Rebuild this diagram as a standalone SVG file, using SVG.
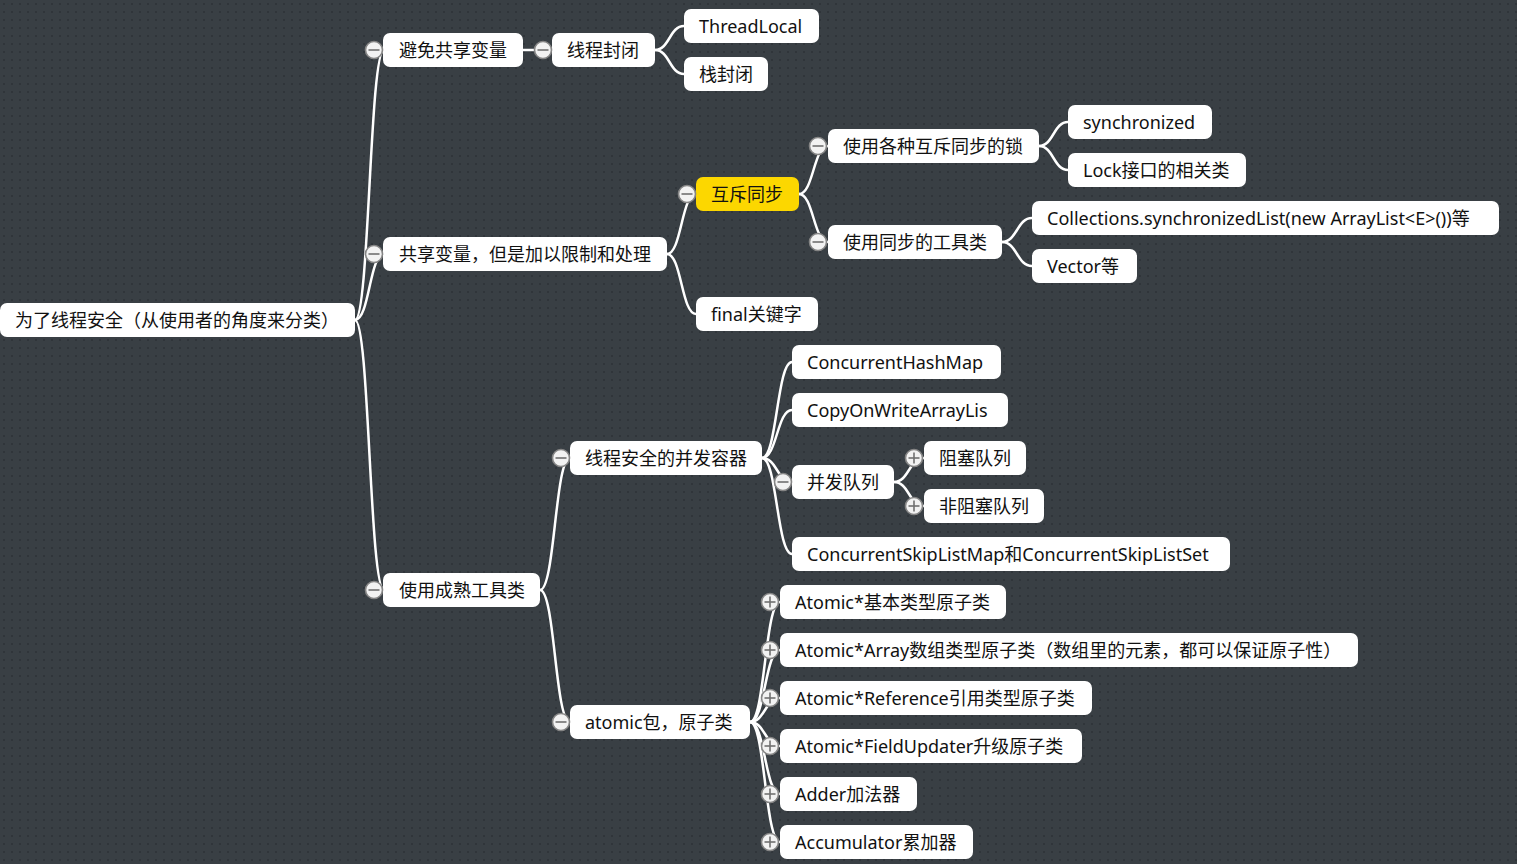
<svg xmlns="http://www.w3.org/2000/svg" width="1517" height="864" viewBox="0 0 1517 864">
<defs>
<pattern id="dots" width="8" height="8" patternUnits="userSpaceOnUse">
<rect width="8" height="8" fill="#393f44"/>
<rect x="3" y="3" width="2" height="2" fill="#30353a"/>
</pattern>
<g id="minus"><circle r="8.5" class="cc"/><line x1="-5.5" y1="0" x2="5.5" y2="0" class="cs"/></g>
<g id="plus"><circle r="8.5" class="cc"/><line x1="-5.5" y1="0" x2="5.5" y2="0" class="cs"/><line x1="0" y1="-5.5" x2="0" y2="5.5" class="cs"/></g>
</defs>
<style>
.box{fill:#ffffff;}
.hl{fill:#fcd700;}
.t{font-family:"Noto Sans","Noto Sans CJK SC",sans-serif;font-size:18px;fill:#111111;}
.cc{fill:#f2f2f2;stroke:#858585;stroke-width:1.6;}
.cs{stroke:#707070;stroke-width:1.6;}
#connectors path{fill:none;stroke:#ffffff;stroke-width:2.5;}
</style>
<rect width="1517" height="864" fill="url(#dots)"/>
<g id="connectors">
<path d="M355 320 C369.5 320 369.5 50 384 50"/>
<path d="M355 320 C369.5 320 369.5 254 384 254"/>
<path d="M355 320 C369.5 320 369.5 590 384 590"/>
<path d="M523 50 L552 50"/>
<path d="M655 50 C669.5 50 669.5 26 684 26"/>
<path d="M655 50 C669.5 50 669.5 74 684 74"/>
<path d="M667 254 C681.5 254 681.5 194 696 194"/>
<path d="M667 254 C681.5 254 681.5 314 696 314"/>
<path d="M799 194 C813.5 194 813.5 146 828 146"/>
<path d="M799 194 C813.5 194 813.5 242 828 242"/>
<path d="M1039 146 C1053.5 146 1053.5 122 1068 122"/>
<path d="M1039 146 C1053.5 146 1053.5 170 1068 170"/>
<path d="M1002 242 C1017 242 1017 218 1032 218"/>
<path d="M1002 242 C1017 242 1017 266 1032 266"/>
<path d="M540 590 C555 590 555 458 570 458"/>
<path d="M540 590 C555 590 555 722 570 722"/>
<path d="M762 458 C777 458 777 362 792 362"/>
<path d="M762 458 C777 458 777 410 792 410"/>
<path d="M762 458 C777 458 777 482 792 482"/>
<path d="M762 458 C777 458 777 554 792 554"/>
<path d="M894 482 C909 482 909 458 924 458"/>
<path d="M894 482 C909 482 909 506 924 506"/>
<path d="M750 722 C765 722 765 602 780 602"/>
<path d="M750 722 C765 722 765 650 780 650"/>
<path d="M750 722 C765 722 765 698 780 698"/>
<path d="M750 722 C765 722 765 746 780 746"/>
<path d="M750 722 C765 722 765 794 780 794"/>
<path d="M750 722 C765 722 765 842 780 842"/>
</g>
<g id="n-root"><rect class="box" x="0" y="303" width="355" height="34" rx="7"/><text class="t" x="15" y="327">为了线程安全（从使用者的角度来分类）</text></g>
<g id="n-avoid"><rect class="box" x="383" y="33" width="140" height="34" rx="7"/><text class="t" x="399" y="57">避免共享变量</text><use href="#minus" x="374" y="50"/></g>
<g id="n-share"><rect class="box" x="383" y="237" width="284" height="34" rx="7"/><text class="t" x="399" y="261">共享变量，但是加以限制和处理</text><use href="#minus" x="374" y="254"/></g>
<g id="n-mature"><rect class="box" x="383" y="573" width="157" height="34" rx="7"/><text class="t" x="399" y="597">使用成熟工具类</text><use href="#minus" x="374" y="590"/></g>
<g id="n-confine"><rect class="box" x="552" y="33" width="103" height="34" rx="7"/><text class="t" x="567" y="57">线程封闭</text><use href="#minus" x="543" y="50"/></g>
<g id="n-threadlocal"><rect class="box" x="684" y="9" width="135" height="34" rx="7"/><text class="t" x="699" y="33">ThreadLocal</text></g>
<g id="n-stack"><rect class="box" x="684" y="57" width="84" height="34" rx="7"/><text class="t" x="699" y="81">栈封闭</text></g>
<g id="n-mutex"><rect class="hl" x="696" y="177" width="103" height="34" rx="7"/><text class="t" x="711" y="201">互斥同步</text><use href="#minus" x="687" y="194"/></g>
<g id="n-final"><rect class="box" x="696" y="297" width="122" height="34" rx="7"/><text class="t" x="711" y="321">final关键字</text></g>
<g id="n-locks"><rect class="box" x="828" y="129" width="211" height="34" rx="7"/><text class="t" x="843" y="153">使用各种互斥同步的锁</text><use href="#minus" x="818" y="146"/></g>
<g id="n-synctools"><rect class="box" x="828" y="225" width="174" height="34" rx="7"/><text class="t" x="843" y="249">使用同步的工具类</text><use href="#minus" x="818" y="242"/></g>
<g id="n-synchronized"><rect class="box" x="1068" y="105" width="144" height="34" rx="7"/><text class="t" x="1083" y="129">synchronized</text></g>
<g id="n-lock"><rect class="box" x="1068" y="153" width="178" height="34" rx="7"/><text class="t" x="1083" y="177">Lock接口的相关类</text></g>
<g id="n-collections"><rect class="box" x="1032" y="201" width="467" height="34" rx="7"/><text class="t" x="1047" y="225">Collections.synchronizedList(new ArrayList&lt;E&gt;())等</text></g>
<g id="n-vector"><rect class="box" x="1032" y="249" width="105" height="34" rx="7"/><text class="t" x="1047" y="273">Vector等</text></g>
<g id="n-containers"><rect class="box" x="570" y="441" width="192" height="34" rx="7"/><text class="t" x="585" y="465">线程安全的并发容器</text><use href="#minus" x="561" y="458"/></g>
<g id="n-atomic"><rect class="box" x="570" y="705" width="180" height="34" rx="7"/><text class="t" x="585" y="729">atomic包，原子类</text><use href="#minus" x="561" y="722"/></g>
<g id="n-chm"><rect class="box" x="792" y="345" width="209" height="34" rx="7"/><text class="t" x="807" y="369">ConcurrentHashMap</text></g>
<g id="n-cow"><rect class="box" x="792" y="393" width="216" height="34" rx="7"/><text class="t" x="807" y="417">CopyOnWriteArrayLis</text></g>
<g id="n-queue"><rect class="box" x="792" y="465" width="102" height="34" rx="7"/><text class="t" x="807" y="489">并发队列</text><use href="#minus" x="783" y="482"/></g>
<g id="n-blocking"><rect class="box" x="924" y="441" width="102" height="34" rx="7"/><text class="t" x="939" y="465">阻塞队列</text><use href="#plus" x="914" y="458"/></g>
<g id="n-nonblocking"><rect class="box" x="924" y="489" width="120" height="34" rx="7"/><text class="t" x="939" y="513">非阻塞队列</text><use href="#plus" x="914" y="506"/></g>
<g id="n-skiplist"><rect class="box" x="792" y="537" width="438" height="34" rx="7"/><text class="t" x="807" y="561">ConcurrentSkipListMap和ConcurrentSkipListSet</text></g>
<g id="n-a1"><rect class="box" x="780" y="585" width="226" height="34" rx="7"/><text class="t" x="795" y="609">Atomic*基本类型原子类</text><use href="#plus" x="770" y="602"/></g>
<g id="n-a2"><rect class="box" x="780" y="633" width="578" height="34" rx="7"/><text class="t" x="795" y="657">Atomic*Array数组类型原子类（数组里的元素，都可以保证原子性）</text><use href="#plus" x="770" y="650"/></g>
<g id="n-a3"><rect class="box" x="780" y="681" width="312" height="34" rx="7"/><text class="t" x="795" y="705">Atomic*Reference引用类型原子类</text><use href="#plus" x="770" y="698"/></g>
<g id="n-a4"><rect class="box" x="780" y="729" width="302" height="34" rx="7"/><text class="t" x="795" y="753">Atomic*FieldUpdater升级原子类</text><use href="#plus" x="770" y="746"/></g>
<g id="n-a5"><rect class="box" x="780" y="777" width="137" height="34" rx="7"/><text class="t" x="795" y="801">Adder加法器</text><use href="#plus" x="770" y="794"/></g>
<g id="n-a6"><rect class="box" x="780" y="825" width="193" height="34" rx="7"/><text class="t" x="795" y="849">Accumulator累加器</text><use href="#plus" x="770" y="842"/></g>
</svg>
